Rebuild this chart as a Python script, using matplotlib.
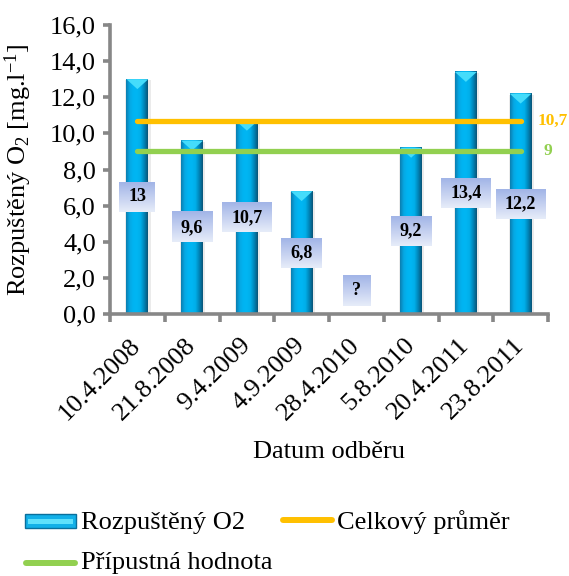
import numpy as np
import matplotlib
matplotlib.use("Agg")
import matplotlib.pyplot as plt
from matplotlib.patches import Polygon, Rectangle
from matplotlib.lines import Line2D
from matplotlib.colors import LinearSegmentedColormap

# Sampling dates and dissolved oxygen values
dates = ["10.4.2008", "21.8.2008", "9.4.2009", "4.9.2009",
         "28.4.2010", "5.8.2010", "20.4.2011", "23.8.2011"]
oxygen = [13.0, 9.6, 10.7, 6.8, np.nan, 9.2, 13.4, 12.2]
value_labels = ["13", "9,6", "10,7", "6,8", "?", "9,2", "13,4", "12,2"]
missing_label_y = 1.3
mean_value = 10.7
limit_value = 9.0
yticks = np.arange(0, 16.1, 2.0)

plt.rcParams["font.family"] = ["Liberation Serif", "DejaVu Serif"]
plt.rcParams["mathtext.fontset"] = "custom"
plt.rcParams["mathtext.rm"] = "Liberation Serif"
plt.rcParams["mathtext.it"] = "Liberation Serif:italic"

W, H = 569, 576
fig = plt.figure(figsize=(W / 100, H / 100), dpi=100)
ax = fig.add_axes([110 / W, 1 - 314 / H, 438 / W, 289 / H])

FS = 19
n = len(dates)
x = np.arange(n)
bar_w = 0.4
gray = "#878787"

# Horizontal gradient for the cylinder-like bars
bar_cmap = LinearSegmentedColormap.from_list(
    "bar", ["#0b7eb0", "#06a8e4", "#00b4f2", "#00b6f3", "#00aee9", "#0085b8", "#0a5578"])
grad = np.linspace(0, 1, 64).reshape(1, -1)

for xi, v in zip(x, oxygen):
    if np.isnan(v):
        continue
    # soft shadow around the bar
    ax.add_patch(Rectangle((xi - bar_w / 2 - 0.02, 0), bar_w + 0.06, v - 0.05,
                           facecolor="#000000", alpha=0.08, lw=0, zorder=1.5))
    ax.imshow(grad, extent=[xi - bar_w / 2, xi + bar_w / 2, 0, v],
              aspect="auto", cmap=bar_cmap, zorder=2, interpolation="bilinear")
    ax.add_patch(Polygon([(xi - bar_w / 2, v), (xi + bar_w / 2, v), (xi, v - 0.55)],
                         closed=True, facecolor="#45dcfb", edgecolor="none", zorder=2.5))

# Reference lines
ax.plot([x[0], x[-1]], [mean_value, mean_value], color="#FFC000", lw=3.8,
        solid_capstyle="round", zorder=3)
ax.plot([x[0], x[-1]], [limit_value, limit_value], color="#92D050", lw=3.8,
        solid_capstyle="round", zorder=3)
ax.annotate(f"{mean_value:.1f}".replace(".", ","), (x[-1], mean_value),
            xytext=(17, 0), textcoords="offset pixels", ha="left", va="center",
            color="#FFC000", fontweight="bold", fontsize=12.5)
ax.annotate(f"{limit_value:.0f}", (x[-1], limit_value),
            xytext=(23, 0), textcoords="offset pixels", ha="left", va="center",
            color="#92D050", fontweight="bold", fontsize=12.5)

ax.set_xlim(-0.5, n - 0.5)
ax.set_ylim(0, 16)

# Axes styling
for s in ["top", "right"]:
    ax.spines[s].set_visible(False)
for s in ["left", "bottom"]:
    ax.spines[s].set_color(gray)
    ax.spines[s].set_linewidth(2.6)
ax.set_yticks(yticks)
ax.set_yticklabels([f"{t:.1f}".replace(".", ",") for t in yticks], fontsize=FS)
ax.tick_params(axis="y", length=5, width=2.6, color=gray, pad=5)
ax.set_xticks(x)
ax.set_xticklabels(dates, rotation=45, ha="right", va="center",
                   rotation_mode="anchor", fontsize=FS)
ax.tick_params(axis="x", which="major", length=0, pad=20)
ax.set_xticks(np.arange(-0.5, n, 1.0), minor=True)
ax.tick_params(axis="x", which="minor", length=6, width=2.6, color=gray)

ax.set_ylabel("Rozpuštěný O$_2$ [mg.l$^{-1}$]", fontsize=FS)
ax.yaxis.set_label_coords((34 - 110) / 438, 0.5)
fig.text(329 / W, 1 - 458 / H, "Datum odběru", ha="center", va="baseline", fontsize=FS)

# Value labels with gradient boxes
label_y = [v / 2 if not np.isnan(v) else missing_label_y for v in oxygen]
texts = []
for xi, ly, lab in zip(x, label_y, value_labels):
    t = ax.text(xi, ly, lab, ha="center", va="center", fontsize=13,
                fontweight="bold", color="black", zorder=6)
    texts.append(t)

fig.canvas.draw()
renderer = fig.canvas.get_renderer()
box_cmap = LinearSegmentedColormap.from_list("box", ["#a2b5e7", "#c4d0f0", "#e6ecf9"])
vgrad = np.linspace(0, 1, 32).reshape(-1, 1)
inv = ax.transData.inverted()
for t, xi, ly in zip(texts, x, label_y):
    bb = t.get_window_extent(renderer)
    cx, cy = ax.transData.transform((xi, ly))
    hw = bb.width / 2 + 9
    hh = 15
    (x0, y0) = inv.transform((cx - hw, cy - hh))
    (x1, y1) = inv.transform((cx + hw, cy + hh))
    ax.imshow(vgrad, extent=[x0, x1, y0, y1], aspect="auto", cmap=box_cmap,
              zorder=5, origin="upper")
ax.set_xlim(-0.5, n - 0.5)
ax.set_ylim(0, 16)


# Legend drawn in figure pixel coordinates
def fx(px):
    return px / W


def fy(py):
    return 1 - py / H


fig.patches.append(Rectangle((fx(25), fy(528)), 51 / W, 14 / H, transform=fig.transFigure,
                             facecolor="#12b0e8", edgecolor="#0a6f9c", lw=1.0))
fig.patches.append(Rectangle((fx(28), fy(524)), 45 / W, 5 / H, transform=fig.transFigure,
                             facecolor="#5fe0fb", edgecolor="none"))
fig.text(fx(81), fy(529), "Rozpuštěný O2", ha="left", va="baseline", fontsize=FS)
fig.lines.append(Line2D([fx(283), fx(332)], [fy(520), fy(520)], transform=fig.transFigure,
                        color="#FFC000", lw=4.3, solid_capstyle="round"))
fig.text(fx(337), fy(529), "Celkový průměr", ha="left", va="baseline", fontsize=FS)
fig.lines.append(Line2D([fx(26), fx(75)], [fy(563), fy(563)], transform=fig.transFigure,
                        color="#92D050", lw=4.3, solid_capstyle="round"))
fig.text(fx(81), fy(569), "Přípustná hodnota", ha="left", va="baseline", fontsize=FS)

fig.savefig("out.png", dpi=100)
